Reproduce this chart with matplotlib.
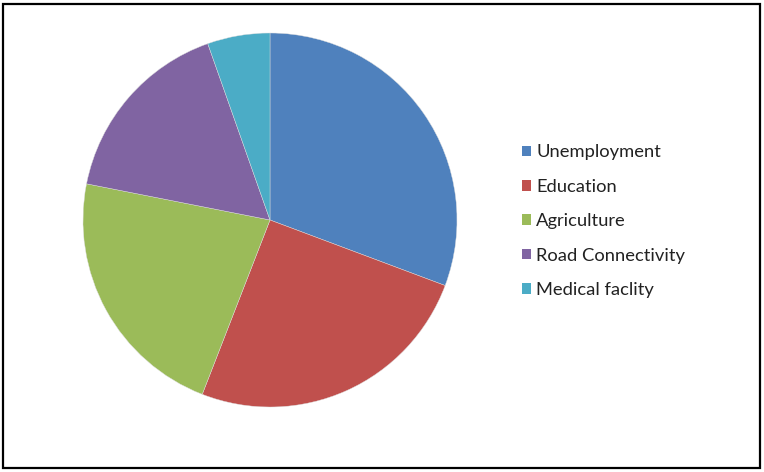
import matplotlib
matplotlib.use("Agg")
import matplotlib.pyplot as plt
from matplotlib.patches import Rectangle, Patch

categories = ["Unemployment", "Education", "Agriculture", "Road Connectivity", "Medical faclity"]
values = [30.7, 25.2, 22.2, 16.5, 5.4]
colors = ["#4F81BD", "#C0504D", "#9BBB59", "#8064A2", "#4BACC6"]

W, H = 764, 472
fig = plt.figure(figsize=(W / 100, H / 100), dpi=100)
fig.patch.set_facecolor("white")

# frame around chart
fig.patches.append(Rectangle((3 / W, 4 / H), 757 / W, 464 / H, transform=fig.transFigure,
                             fill=False, edgecolor="black", linewidth=1.6))

cx, cy, r = 270, 220, 187
ax = fig.add_axes([(cx - r) / W, (H - cy - r) / H, 2 * r / W, 2 * r / H])
ax.pie(values, colors=colors, startangle=90, counterclock=False,
       wedgeprops=dict(linewidth=0.3, edgecolor="#dddddd"))
ax.set_xlim(-1, 1)
ax.set_ylim(-1, 1)
ax.set_aspect("auto")
ax.axis("off")

handles = [Patch(facecolor=c, edgecolor="none") for c in colors]
leg = fig.legend(handles, categories, loc="upper left",
                 bbox_to_anchor=(505 / W, 1 - 128 / H),
                 frameon=False, handlelength=0.5, handleheight=0.5,
                 handletextpad=0.3, labelspacing=1.0,
                 prop=dict(family="Lato", size=13.2))
for t in leg.get_texts():
    t.set_color("#222222")

fig.savefig("out.png", dpi=100)
